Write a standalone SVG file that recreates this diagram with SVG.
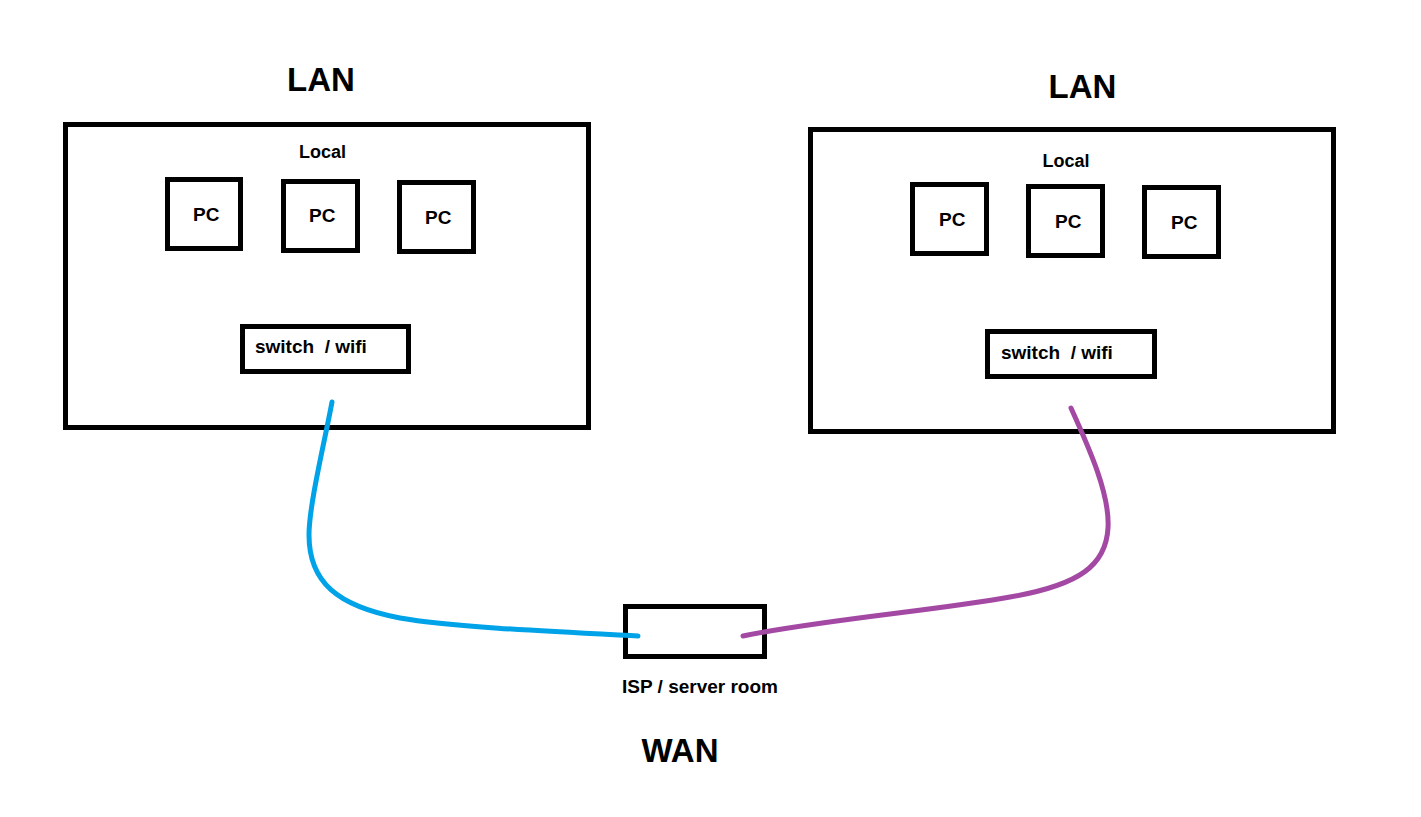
<svg xmlns="http://www.w3.org/2000/svg" width="1421" height="817" viewBox="0 0 1421 817">
<style>
.box{fill:none;stroke:#000;stroke-width:5}
.t{font-family:"Liberation Sans",Arial,sans-serif;font-weight:bold;fill:#000}
.title{font-size:33px;text-anchor:middle}
.lbl{font-size:18px;text-anchor:middle}
.pc{font-size:19px}
.sw{font-size:19px;white-space:pre}
.wire{fill:none;stroke-width:5;stroke-linecap:round}
</style>
<rect width="1421" height="817" fill="#fff"/>
<g id="lan-left">
<text class="t title" x="321" y="91">LAN</text>
<rect class="box" x="65.5" y="124.5" width="523" height="303"/>
<text class="t lbl" x="322.5" y="158">Local</text>
</g>
<g id="pc-l1"><rect class="box" x="167.5" y="179.5" width="73" height="69"/><text class="t pc" x="193" y="221">PC</text></g>
<g id="pc-l2"><rect class="box" x="283.5" y="181.5" width="74" height="69"/><text class="t pc" x="309" y="222">PC</text></g>
<g id="pc-l3"><rect class="box" x="399.5" y="182.5" width="74" height="69"/><text class="t pc" x="425" y="224">PC</text></g>
<g id="switch-l"><rect class="box" x="242.5" y="326.5" width="166" height="45"/><text class="t sw" x="255" y="353" xml:space="preserve">switch  / wifi</text></g>
<g id="lan-right">
<text class="t title" x="1082.5" y="98">LAN</text>
<rect class="box" x="810.5" y="129.5" width="523" height="302"/>
<text class="t lbl" x="1066" y="167">Local</text>
</g>
<g id="pc-r1"><rect class="box" x="912.5" y="184.5" width="74" height="69"/><text class="t pc" x="939" y="226">PC</text></g>
<g id="pc-r2"><rect class="box" x="1028.5" y="186.5" width="74" height="69"/><text class="t pc" x="1055" y="228">PC</text></g>
<g id="pc-r3"><rect class="box" x="1144.5" y="187.5" width="74" height="69"/><text class="t pc" x="1171" y="229">PC</text></g>
<g id="switch-r"><rect class="box" x="987.5" y="331.5" width="167" height="45"/><text class="t sw" x="1001" y="359" xml:space="preserve">switch  / wifi</text></g>
<g id="isp"><rect class="box" x="625.5" y="606.5" width="139" height="50"/><text class="t lbl" x="700" y="693" style="font-size:19px">ISP / server room</text></g>
<g id="wan"><text class="t title" x="680" y="762">WAN</text></g>
<g id="connectors">
<path class="wire" stroke="#00A2E8" d="M332,402 C325,440 309,505 309,535 C309,582 337,606 400,618 C450,627 560,632 638,636"/>
<path class="wire" stroke="#A349A4" d="M1071,408 C1090,450 1110,495 1108,528 C1106,565 1080,585 1010,597 C940,610 820,620 743,636"/>
</g>
</svg>
